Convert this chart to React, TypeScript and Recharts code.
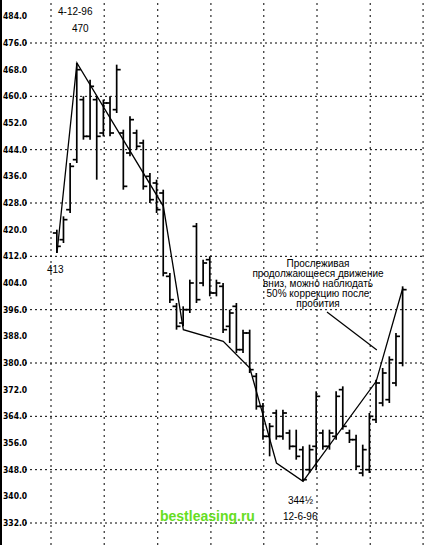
import { Bar, ComposedChart, Line, ReferenceLine, XAxis, YAxis } from 'recharts';

// one entry per daily bar, left to right
const highs = [
  420, 424, 440, 470, 460, 465, 460, 459, 460, 469.5,
  450, 454, 450, 447, 437, 435, 432, 407, 398, 397,
  405, 422, 411, 412, 405, 404, 396, 398, 390, 390,
  377, 368, 362, 366, 366, 360, 360, 355, 355.5, 371.5,
  360, 360, 371.5, 373, 360, 358.5, 355.5, 365, 375, 378.5,
  382, 389, 403,
];
const lows = [
  413, 416, 425, 440, 447, 447, 435, 448, 448, 455,
  432, 442, 444, 432, 428, 425, 406, 398, 390, 391,
  395, 398, 403, 400, 400, 389, 386, 383, 383, 377,
  366, 357, 352, 357, 357, 354, 351, 344.5, 347, 348,
  354, 354, 357, 360, 356, 348, 346, 347, 362, 367,
  368, 373, 379,
];
const opens = [
  419, 417, 426, 441, 459, 448, 459, 449, 458, 456,
  449, 443, 449, 446, 436, 434, 431, 406, 397, 392,
  396, 421, 404, 411, 401, 403, 391, 397, 384, 389,
  376, 367, 358, 365, 358, 359, 355, 354, 348, 355,
  359, 355, 358, 372, 359, 357, 347, 348, 363, 368,
  369, 374, 380,
];
const closes = [
  415, 423, 439, 468, 448, 463, 448, 458, 449, 468,
  433, 453, 445, 433, 429, 426, 407, 399, 391, 396,
  404, 399, 410, 401, 404, 390, 395, 384, 389, 378,
  367, 358, 361, 358, 365, 355, 352, 345, 354, 370,
  355, 359, 370, 361, 357, 349, 354, 364, 374, 377,
  381, 388, 402,
];

// swing points of the trend line (bar index -> price)
const swingBars = [0, 3, 16, 19, 25, 29, 33, 37, 48, 52];
const swingValues = [413, 470, 427, 390, 386.5, 378.5, 350, 344.5, 374.5, 402.5];

const yTicks = [332, 340, 348, 356, 364, 372, 380, 388, 396, 404, 412, 420, 428, 436, 444, 452, 460, 468, 476, 484];
const hGrid = [332, 348, 364, 380, 396, 412, 428, 444, 460, 476];
const vGrid = [-0.9, 7.1, 15.15, 23.15, 31.1, 39.1, 47.1, 55.05];

const data = highs.map((h, i) => {
  const k = swingBars.indexOf(i);
  return {
    i,
    range: [lows[i], h],
    high: h,
    low: lows[i],
    open: opens[i],
    close: closes[i],
    swing: k >= 0 ? swingValues[k] : null,
  };
});

const OhlcBar = (props: any) => {
  const { x, y, width, height, payload } = props;
  const cx = x + width / 2;
  const top = Math.min(y, y + height);
  const h = Math.abs(height);
  const span = payload.high - payload.low || 1;
  const yOpen = top + ((payload.high - payload.open) / span) * h;
  const yClose = top + ((payload.high - payload.close) / span) * h;
  return (
    <g stroke="#000" strokeWidth={1.7} fill="none">
      <line x1={cx} y1={top} x2={cx} y2={top + h} />
      <line x1={cx - 4} y1={yOpen} x2={cx} y2={yOpen} />
      <line x1={cx} y1={yClose} x2={cx + 4} y2={yClose} />
    </g>
  );
};

const YTick = (props: any) => (
  <text
    x={3}
    y={props.y}
    dy={3}
    fontSize={8.5}
    fontWeight="bold"
    fontFamily="'DejaVu Sans Condensed', 'Liberation Sans Narrow', sans-serif"
    fill="#000"
  >
    {Number(props.payload.value).toFixed(1)}
  </text>
);

const label = (text: string, left: number, top: number, size = 10) => (
  <div
    style={{
      position: 'absolute',
      left,
      top,
      fontSize: size,
      fontFamily: "'Liberation Sans', Arial, sans-serif",
      color: '#000',
      whiteSpace: 'nowrap',
      lineHeight: 1,
    }}
  >
    {text}
  </div>
);

export default function App() {
  return (
    <div style={{ position: 'absolute', left: 0, top: 0, width: 425, height: 545, background: '#fff' }}>
      <ComposedChart width={425} height={545} data={data} margin={{ top: 0, right: 0, bottom: 0, left: 0 }}>
        <XAxis dataKey="i" type="number" domain={[-4.81, 55.34]} allowDataOverflow hide />
        <YAxis
          domain={[325.4, 488.9]}
          allowDataOverflow
          ticks={yTicks}
          width={25}
          axisLine={false}
          tickLine={false}
          tick={<YTick />}
        />
        {hGrid.map((v) => (
          <ReferenceLine key={'h' + v} y={v} stroke="#000" strokeWidth={1} strokeDasharray="2 3" />
        ))}
        {vGrid.map((v) => (
          <ReferenceLine key={'v' + v} x={v} stroke="#000" strokeWidth={1} strokeDasharray="2 4" />
        ))}
        <ReferenceLine
          segment={[
            { x: 40.6, y: 395.3 },
            { x: 48.1, y: 383.9 },
          ]}
          stroke="#000"
          strokeWidth={1.2}
        />
        <Bar dataKey="range" shape={<OhlcBar />} isAnimationActive={false} />
        <Line
          dataKey="swing"
          type="linear"
          stroke="#000"
          strokeWidth={1.3}
          dot={false}
          connectNulls
          isAnimationActive={false}
        />
      </ComposedChart>
      <div style={{ position: 'absolute', left: 0, top: 0, width: 2, height: 545, background: '#000' }} />
      {label('4-12-96', 58, 7, 10)}
      {label('470', 72, 24, 10)}
      {label('413', 47, 265, 10)}
      {label('344½', 288, 496, 10)}
      {label('12-6-96', 283, 512, 10)}
      <div
        style={{
          position: 'absolute',
          left: 238,
          top: 259,
          width: 160,
          textAlign: 'center',
          fontSize: 10,
          lineHeight: '10px',
          fontFamily: "'Liberation Sans', Arial, sans-serif",
          color: '#000',
        }}
      >
        Прослеживая
        <br />
        продолжающееся движение
        <br />
        вниз, можно наблюдать
        <br />
        50% коррекцию после
        <br />
        пробития
      </div>
      <div
        style={{
          position: 'absolute',
          left: 160,
          top: 508,
          fontSize: 14,
          fontWeight: 'bold',
          fontFamily: "'Liberation Sans', Arial, sans-serif",
          color: '#66dd22',
        }}
      >
        bestleasing.ru
      </div>
    </div>
  );
}
